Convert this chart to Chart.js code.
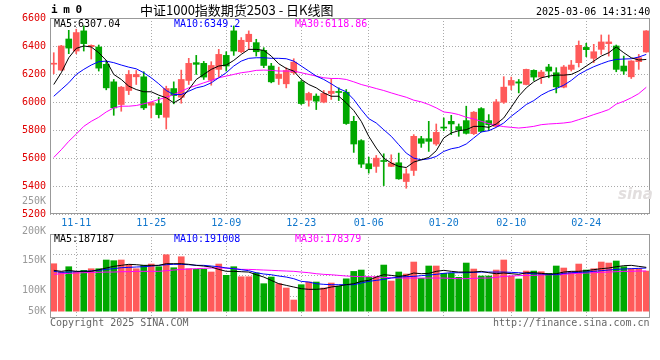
<!DOCTYPE html>
<html>
<head>
<meta charset="utf-8">
<script src="https://cdn.jsdelivr.net/npm/chart.js@4.4.1/dist/chart.umd.min.js"></script>
<style>
  body { margin: 0; background: #fff; width: 660px; height: 360px; position: relative; overflow: hidden; }
  canvas { position: absolute; left: 0; }
  #kline { top: 0; }
  #vol { top: 195px; }
  .txt { position: absolute; font-family: "DejaVu Sans Mono", monospace; font-size: 10px; line-height: 10px; white-space: pre; }
</style>
</head>
<body>
<canvas id="kline" width="660" height="236"></canvas>
<canvas id="vol" width="660" height="145"></canvas>

<div class="txt" style="left:51px;top:5px;font-size:11px;font-weight:bold;letter-spacing:-0.5px;">i m 0</div>
<div class="txt" style="left:140px;top:2px;font-family:'Noto Sans CJK SC';font-size:13px;line-height:15px;">中证1000指数期货2503 - 日K线图</div>
<div class="txt" style="left:536px;top:7px;">2025-03-06 14:31:40</div>
<div class="txt" style="left:54px;top:19px;color:#000;">MA5:6307.04</div>
<div class="txt" style="left:174px;top:19px;color:#00f;">MA10:6349.2</div>
<div class="txt" style="left:295px;top:19px;color:#f0f;">MA30:6118.86</div>
<div class="txt" style="left:54px;top:234px;color:#000;">MA5:187187</div>
<div class="txt" style="left:174px;top:234px;color:#00f;">MA10:191008</div>
<div class="txt" style="left:295px;top:234px;color:#f0f;">MA30:178379</div>
<div class="txt" style="left:50px;top:318px;color:#666;">Copyright 2025 SINA.COM</div>
<div class="txt" style="left:493px;top:318px;color:#666;">http://finance.sina.com.cn</div>
<div class="txt" style="left:618px;top:186px;font-family:'DejaVu Sans';font-size:15px;line-height:16px;font-weight:bold;font-style:italic;color:#e2dede;">sina</div>

<script>
// trading days shown (11-06 .. 03-06)
const days = [
  "11-06","11-07","11-08","11-11","11-12","11-13","11-14","11-15","11-18","11-19",
  "11-20","11-21","11-22","11-25","11-26","11-27","11-28","11-29","12-02","12-03",
  "12-04","12-05","12-06","12-09","12-10","12-11","12-12","12-13","12-16","12-17",
  "12-18","12-19","12-20","12-23","12-24","12-25","12-26","12-27","12-30","12-31",
  "01-02","01-03","01-06","01-07","01-08","01-09","01-10","01-13","01-14","01-15",
  "01-16","01-17","01-20","01-21","01-22","01-23","01-24","01-27","02-05","02-06",
  "02-07","02-10","02-11","02-12","02-13","02-14","02-17","02-18","02-19","02-20",
  "02-21","02-24","02-25","02-26","02-27","02-28","03-03","03-04","03-05","03-06"
];
const tickDays = ["11-11", "11-25", "12-09", "12-23", "01-06", "01-20", "02-10", "02-24"];

const opens = [
  6270,6228,6450,6364,6508,6395,6393,6269,6144,5982, 6082,6180,6180,5977,5989,5891,6096,6034,6154,6281,
  6276,6156,6233,6333,6508,6359,6431,6424,6369,6257, 6168,6130,6209,6144,6013,6042,5999,6061,6072,6070,
  5862,5724,5559,5540,5578,5540,5566,5432,5511,5738, 5738,5700,5816,5862,5824,5867,5774,5953,5867,5826,
  5998,6120,6144,6125,6226,6178,6250,6209,6106,6233, 6281,6390,6312,6376,6417,6400,6257,6180,6288,6357
];
const highs = [
  6352,6405,6512,6520,6543,6408,6407,6297,6161,6111, 6225,6225,6216,5999,6034,6113,6144,6228,6312,6333,
  6290,6288,6376,6359,6543,6460,6508,6448,6388,6276, 6249,6245,6309,6154,6070,6058,6082,6166,6101,6089,
  5898,5731,5606,5618,5630,5623,5635,5523,5767,5755, 5862,5843,5886,5905,5843,5970,5932,5960,5910,6018,
  6181,6178,6161,6235,6230,6226,6269,6245,6261,6297, 6436,6419,6412,6479,6479,6407,6328,6295,6340,6510
];
const lows = [
  6202,6225,6345,6345,6364,6307,6221,6087,5905,5934, 6053,6125,5946,5886,5886,5807,5987,5991,6125,6197,
  6161,6120,6180,6221,6333,6352,6376,6328,6245,6137, 6125,6101,6197,5982,5970,5946,5994,6018,6010,5840,
  5640,5532,5492,5497,5403,5538,5448,5384,5475,5676, 5647,5690,5795,5767,5755,5771,5767,5786,5795,5822,
  5990,6087,6065,6122,6154,6132,6173,6065,6101,6221, 6250,6324,6281,6340,6328,6216,6197,6168,6233,6355
];
const closes = [
  6275,6400,6385,6496,6417,6405,6242,6101,5958,6106, 6197,6197,5958,5996,5910,6096,6046,6161,6276,6269,
  6178,6261,6340,6257,6364,6441,6484,6359,6261,6144, 6199,6225,6285,5989,6061,6006,6061,6077,6068,5846,
  5700,5556,5523,5599,5575,5564,5451,5487,5755,5705, 5719,5783,5814,5843,5800,5776,5927,5790,5838,6001,
  6106,6154,6135,6233,6178,6214,6221,6108,6250,6264, 6405,6374,6359,6429,6429,6233,6221,6293,6316,6508
];

// moving averages as drawn on the price panel
const ma5 = [
  6125,6209,6316,6383,6400,6393,6352,6297,6197,6161, 6113,6089,6073,6073,6049,6030,5994,6025,6089,6161,
  6197,6233,6257,6264,6297,6340,6376,6376,6369,6328, 6273,6240,6221,6161,6125,6101,6065,6041,6041,5994,
  5939,5862,5755,5671,5599,5564,5540,5532,5571,5587, 5604,5652,5743,5779,5795,5802,5826,5826,5819,5843,
  5886,5963,6042,6101,6144,6173,6185,6192,6192,6197, 6221,6257,6292,6328,6352,6393,6352,6316,6300,6304
];
const ma10 = [
  6041,6089,6137,6197,6233,6264,6288,6292,6281,6264, 6249,6237,6209,6173,6130,6082,6053,6053,6077,6101,
  6113,6137,6173,6209,6257,6292,6312,6316,6316,6312, 6312,6309,6292,6257,6221,6185,6161,6130,6096,6073,
  6018,5946,5881,5850,5802,5755,5695,5635,5599,5587, 5594,5611,5647,5666,5676,5700,5743,5786,5795,5819,
  5850,5898,5939,5982,6010,6049,6077,6096,6120,6154, 6197,6226,6252,6273,6292,6304,6307,6309,6321,6340
];
const ma30 = [
  5604,5659,5719,5771,5826,5862,5891,5929,5958,5970, 5970,5975,5987,6001,6018,6034,6053,6077,6101,6118,
  6137,6154,6173,6185,6197,6209,6216,6226,6228,6226, 6221,6221,6221,6209,6197,6185,6173,6168,6168,6161,
  6144,6125,6111,6096,6082,6065,6049,6034,6013,6001, 5982,5958,5929,5922,5910,5891,5879,5862,5846,5834,
  5824,5819,5814,5819,5826,5838,5843,5846,5850,5857, 5874,5891,5910,5927,5946,5985,6005,6030,6060,6105
];

// volume panel, in thousands (K)
const volK = [
  144.9,131.0,139.9,131.0,133.8,136.5,136.5,151.2,150.0,151.2, 143.2,136.5,142.2,144.4,139.9,160.1,138.2,156.7,136.5,135.5,
  135.5,131.0,144.4,125.4,139.9,123.0,123.0,129.3,111.3,122.5, 111.3,104.0,83.8,109.6,114.1,114.1,104.0,112.4,107.0,119.5,
  132.0,134.3,122.0,123.0,142.7,115.8,131.0,127.6,147.8,120.3, 141.1,141.1,128.8,128.8,122.0,146.1,136.0,124.2,124.2,134.3,
  151.2,124.2,119.2,132.6,132.6,131.5,128.8,141.1,137.7,131.5, 144.4,134.3,136.5,147.8,146.1,149.5,139.9,136.5,136.5,132.6
];
const volMa5 = [
  133.8,132.1,133.8,132.1,132.1,132.1,134.9,137.7,140.5,142.2, 143.9,143.3,142.2,142.2,142.2,145.0,145.0,145.0,143.9,142.2,
  141.0,139.4,135.4,132.1,132.1,131.5,130.9,126.4,122.5,116.9, 111.3,108.5,105.7,102.9,101.8,101.8,102.9,105.7,107.4,109.6,
  111.3,115.2,116.9,122.5,126.4,125.3,123.6,125.3,129.3,128.1, 128.7,132.1,133.8,132.1,130.9,130.9,130.9,132.1,129.8,128.1,
  129.3,128.1,127.0,129.8,129.8,128.7,127.6,128.1,130.9,132.1, 132.1,133.2,134.9,136.6,137.7,139.9,141.6,142.2,140.5,138.8
];
const volMa10 = [
  132.1,130.4,130.9,131.5,132.1,132.6,133.8,135.4,136.6,138.2, 138.8,139.4,139.9,141.0,142.2,143.3,143.9,143.9,143.3,142.2,
  142.2,141.0,139.9,137.7,136.6,134.9,133.2,129.8,127.6,126.4, 124.2,122.5,119.7,115.2,114.1,111.3,110.2,109.6,109.6,109.6,
  109.6,112.4,115.2,116.9,118.6,120.8,122.5,123.1,123.6,124.8, 125.9,127.0,128.7,129.8,129.8,129.8,130.4,130.9,130.9,130.9,
  130.9,130.4,129.8,128.7,128.1,127.6,127.0,126.4,128.7,129.8, 130.4,130.9,132.1,133.2,134.3,135.4,136.0,136.6,137.1,137.7
];
const volMa30 = [
  127.0,128.1,128.7,129.3,129.8,130.4,130.4,130.9,130.9,131.5, 131.5,132.1,132.1,132.1,132.1,133.2,134.3,135.4,136.0,136.6,
  137.1,137.7,137.7,137.7,136.6,135.4,135.4,134.9,134.3,133.8, 133.2,132.6,132.1,130.9,129.8,128.1,127.0,126.4,125.3,124.2,
  123.6,123.1,123.1,122.5,121.9,121.4,120.8,120.8,120.8,120.8, 120.8,120.8,120.8,120.3,119.7,119.7,120.3,120.8,120.8,121.9,
  123.6,124.2,124.8,125.3,125.3,125.9,126.4,126.4,127.0,128.1, 128.7,129.3,129.8,130.4,130.9,131.5,132.1,132.1,132.6,132.6
];
const volLabels = [250, 200, 150, 100, 50];
const volMin = 53.5, volMax = 195, volBase = 65;
const volGrid = [90, 125, 160];

const RED = "#ff5a5a";
const GREEN = "#00a800";
const mono = "'DejaVu Sans Mono', monospace";

const colors = closes.map((c, i) => (c >= opens[i] ? RED : GREEN));
const xGrid = (c) => (tickDays.includes(days[c.index]) ? "#aaa" : "rgba(0,0,0,0)");

// gray box round the plot area
const frame = {
  id: "frame",
  afterDatasetsDraw(chart) {
    const a = chart.chartArea;
    const ctx = chart.ctx;
    ctx.save();
    ctx.strokeStyle = "#999";
    ctx.lineWidth = 1;
    ctx.strokeRect(a.left + 0.5, a.top + 0.5, a.right - a.left - 1, a.bottom - a.top - 1);
    ctx.restore();
  },
};

// volume labels sit partly outside the plot, so draw them by hand
const volAxisText = {
  id: "volAxisText",
  afterDraw(chart) {
    const s = chart.scales.y;
    const ctx = chart.ctx;
    ctx.save();
    ctx.fillStyle = "#999";
    ctx.font = "10px " + mono;
    ctx.textAlign = "right";
    ctx.textBaseline = "middle";
    volLabels.forEach((v) => {
      ctx.fillText(v + "K", 46, s.getPixelForValue(Math.max(v, volBase)));
    });
    ctx.restore();
  },
};

function line(data, color) {
  return {
    type: "line",
    data,
    borderColor: color,
    borderWidth: 1,
    pointRadius: 0,
    tension: 0,
    fill: false,
    order: 1,
  };
}

new Chart(document.getElementById("kline"), {
  type: "bar",
  data: {
    labels: days,
    datasets: [
      line(ma5, "#000"),
      line(ma10, "#00f"),
      line(ma30, "#f0f"),
      {
        data: opens.map((o, i) => [o, closes[i]]),
        backgroundColor: colors,
        barThickness: 6,
        minBarLength: 1,
        grouped: false,
        order: 2,
      },
      {
        data: lows.map((l, i) => [l, highs[i]]),
        backgroundColor: colors,
        barThickness: 1,
        grouped: false,
        order: 3,
      },
    ],
  },
  options: {
    responsive: false,
    animation: false,
    events: [],
    layout: { padding: { top: 18, right: 10, bottom: 0, left: 0 } },
    plugins: { legend: { display: false }, tooltip: { enabled: false } },
    scales: {
      x: {
        offset: true,
        grid: { offset: false, color: xGrid, drawTicks: false },
        border: { display: false, dash: [1, 2] },
        ticks: {
          autoSkip: false,
          maxRotation: 0,
          padding: 3,
          color: "#1177cc",
          font: { family: mono, size: 10 },
          callback: (v, i) => (tickDays.includes(days[i]) ? days[i] : ""),
        },
        afterFit: (s) => { s.height = 22; },
      },
      y: {
        min: 5200,
        max: 6600,
        ticks: {
          stepSize: 200,
          padding: 4,
          color: "#e00000",
          font: { family: mono, size: 10 },
          callback: (v) => String(v),
        },
        grid: { color: "#aaa", drawTicks: false },
        border: { display: false, dash: [1, 2] },
        afterFit: (s) => { s.width = 50; },
      },
    },
  },
  plugins: [frame],
});

new Chart(document.getElementById("vol"), {
  type: "bar",
  data: {
    labels: days,
    datasets: [
      line(volMa5, "#000"),
      line(volMa10, "#00f"),
      line(volMa30, "#f0f"),
      {
        data: volK,
        base: volBase,
        backgroundColor: colors,
        barThickness: 6,
        grouped: false,
        order: 2,
      },
    ],
  },
  options: {
    responsive: false,
    animation: false,
    events: [],
    layout: { padding: { top: 39, right: 10, bottom: 22, left: 0 } },
    plugins: { legend: { display: false }, tooltip: { enabled: false } },
    scales: {
      x: {
        offset: true,
        grid: { offset: false, color: xGrid, drawTicks: false },
        border: { display: false, dash: [1, 2] },
        ticks: { display: false, autoSkip: false },
        afterFit: (s) => { s.height = 0; },
      },
      y: {
        min: volMin,
        max: volMax,
        ticks: { display: false },
        grid: { color: "#aaa", drawTicks: false },
        border: { display: false, dash: [1, 2] },
        afterBuildTicks: (s) => { s.ticks = volGrid.map((v) => ({ value: v })); },
        afterFit: (s) => { s.width = 50; },
      },
    },
  },
  plugins: [frame, volAxisText],
});
</script>
</body>
</html>
